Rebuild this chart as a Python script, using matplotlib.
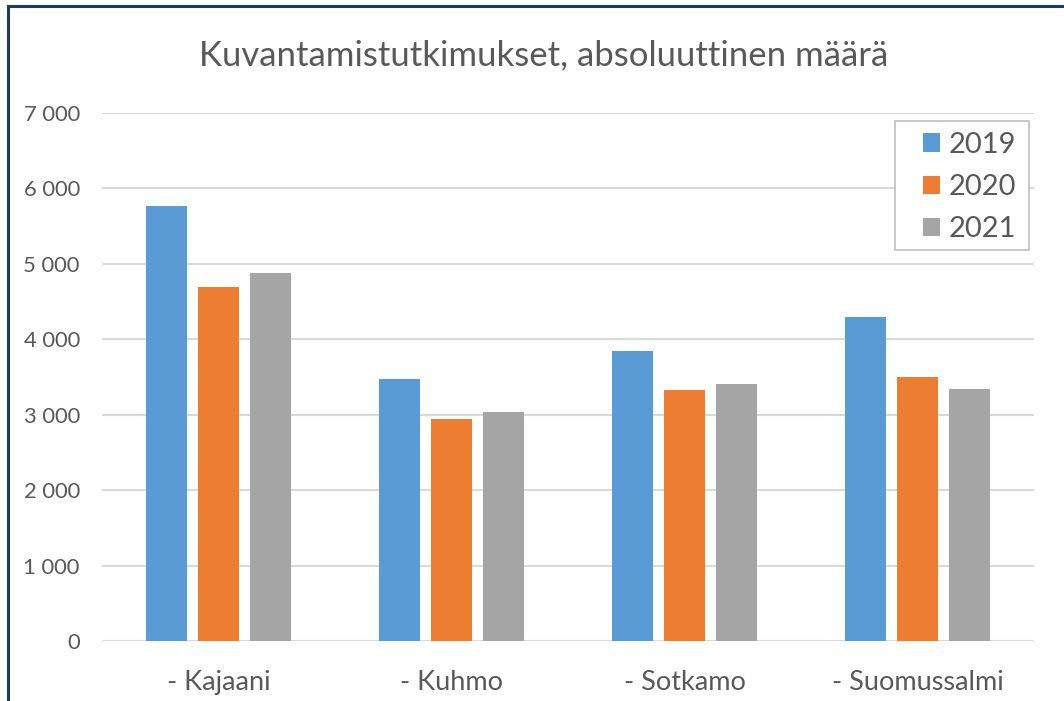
import matplotlib
matplotlib.use('Agg')
import matplotlib.pyplot as plt
import numpy as np
from matplotlib.patches import Patch, Rectangle
from matplotlib.lines import Line2D

categories = ['- Kajaani', '- Kuhmo', '- Sotkamo', '- Suomussalmi']
years = ['2019', '2020', '2021']
v2019 = [5767, 3466, 3844, 4294]
v2020 = [4696, 2937, 3328, 3496]
v2021 = [4881, 3033, 3403, 3341]
yticks = [0, 1000, 2000, 3000, 4000, 5000, 6000, 7000]
ytick_labels = ['0', '1 000', '2 000', '3 000', '4 000', '5 000', '6 000', '7 000']
title = 'Kuvantamistutkimukset, absoluuttinen määrä'

colors = ['#5B9BD5', '#ED7D31', '#A5A5A5']
txt = '#595959'
grid = '#D9D9D9'

plt.rcParams['font.family'] = ['Lato', 'DejaVu Sans']

W, H = 1064, 701
fig = plt.figure(figsize=(W / 100, H / 100), dpi=100)
fig.patch.set_facecolor('white')

ax = fig.add_axes([102 / W, 1 - 641 / H, 932 / W, (641 - 112.7) / H])
x = np.arange(len(categories))
width = 41 / 233
pitch = 51.7 / 233
for i, (vals, c) in enumerate(zip([v2019, v2020, v2021], colors)):
    ax.bar(x + (i - 1) * pitch, vals, width, color=c, zorder=3, label=years[i])

ax.set_xlim(-0.5, len(categories) - 0.5)
ax.set_ylim(0, 7000)
ax.set_yticks(yticks)
ax.set_yticklabels(ytick_labels)
ax.set_xticks(x)
ax.set_xticklabels(categories)
ax.yaxis.grid(True, color=grid, linewidth=1.5, zorder=0)
ax.set_axisbelow(True)
for s in ax.spines.values():
    s.set_visible(False)
ax.tick_params(axis='both', length=0, colors=txt, labelsize=15.8)
ax.tick_params(axis='y', pad=16)
ax.tick_params(axis='x', pad=21, labelsize=19.5)

fig.text(544 / W, 1 - 55 / H, title, ha='center', va='center', fontsize=25, color=txt)

# legend frame
fig.add_artist(Rectangle((895 / W, 1 - 250 / H), (1029 - 895) / W, (250 - 121) / H,
                         transform=fig.transFigure, facecolor='white', edgecolor='#BFBFBF',
                         linewidth=1.2, zorder=4))
handles = [Patch(facecolor=c, edgecolor='none') for c in colors]
leg = fig.legend(handles, years, loc='upper left', bbox_to_anchor=(923 / W, 1 - 132 / H),
                 frameon=False, fontsize=21, handlelength=0.6, handleheight=0.6,
                 labelspacing=0.55, handletextpad=0.28, borderpad=0, borderaxespad=0)
leg.set_zorder(5)
for t in leg.get_texts():
    t.set_color(txt)

navy = '#1F3864'
fig.add_artist(Line2D([7.5 / W, 7.5 / W], [0, 1 - 5.5 / H], color=navy, linewidth=2.2, transform=fig.transFigure))
fig.add_artist(Line2D([7.5 / W, 1], [1 - 5.5 / H, 1 - 5.5 / H], color=navy, linewidth=2.2, transform=fig.transFigure))

fig.savefig('out.png', dpi=100, facecolor='white')
